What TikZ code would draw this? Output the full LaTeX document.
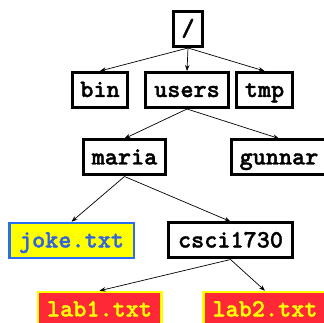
\documentclass[tikz,border=0pt]{standalone}
\usepackage{fontspec}
\newfontfamily\codefont{lmmonolt10-bold}[Extension=.otf, FakeBold=1.4]
\usetikzlibrary{arrows.meta}
\definecolor{fileyellow}{RGB}{255,255,0}
\definecolor{fileblue}{RGB}{40,110,240}
\definecolor{jokeblue}{RGB}{50,100,220}
\definecolor{filered}{RGB}{255,40,55}
\tikzset{
  dirbox/.style={draw=black, line width=3pt, fill=white, inner sep=0pt,
    font=\codefont\fontsize{25}{25}\selectfont,
    minimum height=35pt, text height=15pt, text depth=1pt},
  jokebox/.style={dirbox, draw=fileblue, line width=2.5pt, fill=fileyellow,
    text=jokeblue, minimum height=35pt},
  labbox/.style={dirbox, draw=fileyellow, line width=2.5pt, fill=filered,
    text=fileyellow, minimum height=35pt},
  edge/.style={line width=0.7pt, -{Stealth[length=6pt,width=4.5pt]}}
}
\begin{document}
\begin{tikzpicture}[x=1pt, y=-1pt]
  \useasboundingbox (0,0) rectangle (324,323);
  \clip (0,0) rectangle (324,323);
  % directory nodes
  \node[dirbox, minimum width=29pt, text height=17pt, text depth=3pt] (root) at (188,29) {/};
  \node[dirbox, minimum width=55pt] (bin) at (100,90) {bin};
  \node[dirbox, minimum width=83pt] (users) at (187,90) {users};
  \node[dirbox, minimum width=56pt] (tmp) at (264.5,90) {tmp};
  \node[dirbox, minimum width=82pt] (maria) at (124.5,157.5) {maria};
  \node[dirbox, minimum width=95pt] (gunnar) at (279,157.5) {gunnar};
  \node[jokebox, minimum width=124.5pt] (joke) at (71.5,240.5) {joke.txt};
  \node[dirbox, minimum width=124pt] (csci) at (230.5,240.5) {csci1730};
  \node[labbox, minimum width=123.5pt] (lab1) at (99.5,309.5) {lab1.txt};
  \node[labbox, minimum width=123.5pt] (lab2) at (265,309.5) {lab2.txt};
  % tree edges
  \draw[edge] (root.south) -- (bin.north);
  \draw[edge] (root.south) -- (users.north);
  \draw[edge] (root.south) -- (tmp.north);
  \draw[edge] (users.south) -- (maria.north);
  \draw[edge] (users.south) -- (gunnar.north);
  \draw[edge] (maria.south) -- (joke.north);
  \draw[edge] (maria.south) -- (csci.north);
  \draw[edge] (csci.south) -- (lab1.north);
  \draw[edge] (csci.south) -- (lab2.north);
\end{tikzpicture}
\end{document}
